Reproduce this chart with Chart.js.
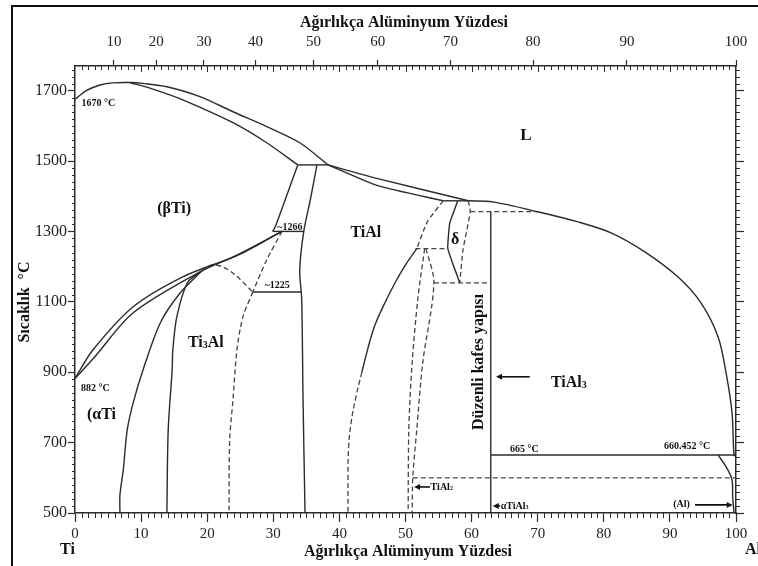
<!DOCTYPE html>
<html>
<head>
<meta charset="utf-8">
<script src="https://cdn.jsdelivr.net/npm/chart.js@4.4.0/dist/chart.umd.min.js"></script>
<style>
  html, body { margin: 0; padding: 0; background: #fff; }
  canvas { display: block; }
</style>
</head>
<body>
<canvas id="phase" width="758" height="566"></canvas>
<script>
// ---- axis ticks ----
const bottomTicks = [0, 10, 20, 30, 40, 50, 60, 70, 80, 90, 100];
const tempTicks = [500, 700, 900, 1100, 1300, 1500, 1700];
const topTickLabels = ['10', '20', '30', '40', '50', '60', '70', '80', '90', '100'];
const topTickPos = [5.9, 12.3, 19.5, 27.3, 36.1, 45.8, 56.8, 69.3, 83.5, 100];

// ---- phase boundaries, [wt% Al, T °C] ----
const liquidusLeft = [[0, 1675], [1.7, 1700], [3.8, 1716], [5.7, 1722], [8.3, 1723], [10.5, 1720], [13.9, 1711], [18.9, 1683], [23.9, 1640], [29.0, 1598], [34.0, 1552], [38.3, 1489]];
const solidusLeft = [[8.3, 1723], [12.0, 1703], [16.3, 1674], [23.9, 1609], [29.0, 1552], [33.7, 1489]];
const peritectic1490 = [[33.7, 1489], [38.3, 1489]];
const betaBoundary = [[33.7, 1489], [31.8, 1390], [30.3, 1313], [29.9, 1300]];
const tialLeft = [[36.6, 1489], [35.6, 1390], [34.6, 1299], [34.0, 1191], [34.3, 1106], [34.5, 822], [34.8, 500]];
const line1266 = [[29.9, 1300], [34.6, 1300]];
const betaTransus = [[0, 882], [2.7, 963], [8.8, 1086], [16.3, 1171], [23.9, 1228], [31.3, 1300]];
const alphaTransus = [[0, 882], [3.0, 944], [8.8, 1069], [18.9, 1185], [25.5, 1240], [31.3, 1300]];
const ti3alDome = [[19.2, 1188], [20.7, 1205], [22.5, 1198], [24.2, 1177], [26.9, 1128]];
const dome2 = [[31.3, 1300], [29.0, 1219], [26.9, 1128]];
const line1225 = [[26.9, 1128], [34.2, 1128]];
const alpha2Right = [[26.9, 1128], [25.4, 1057], [24.5, 963], [23.9, 822], [23.4, 708], [23.3, 500]];
const alphaSolvus = [[19.2, 1188], [15.9, 1125], [12.9, 1040], [10.3, 907], [8.8, 813], [7.9, 736], [7.3, 622], [6.8, 551], [6.8, 500]];
const alpha2Left = [[19.2, 1188], [17.0, 1154], [15.4, 1057], [14.8, 963], [14.7, 907], [14.1, 736], [13.9, 500]];
const liquidusMid = [[38.3, 1489], [45.8, 1450], [59.5, 1387]];
const solidusMid = [[38.3, 1489], [45.8, 1430], [55.7, 1387]];
const deltaTop = [[55.7, 1387], [59.5, 1387]];
const liquidusRight = [[59.5, 1387], [63.2, 1384], [70.0, 1356], [76.1, 1327], [81.1, 1296], [86.2, 1242], [91.2, 1171], [94.7, 1097], [97.3, 1000], [98.5, 898], [99.4, 784], [99.7, 665], [100, 660]];
const tialRightTop = [[55.7, 1387], [53.3, 1327], [51.7, 1251]];
const tialRight = [[51.7, 1251], [50.0, 1205], [48.3, 1150], [46.7, 1090], [45.3, 1030], [44.2, 960], [43.4, 900]];
const tialRightLow = [[43.4, 900], [42.5, 830], [41.8, 760], [41.4, 690], [41.3, 600], [41.3, 500]];
const line1251 = [[51.5, 1251], [56.4, 1251]];
const tial2Left = [[52.9, 1251], [51.9, 1114], [51.0, 926], [50.5, 736], [50.4, 500]];
const tial2Right = [[53.1, 1251], [54.3, 1154], [52.6, 926], [51.7, 736], [51.1, 600], [51.0, 500]];
const line1154 = [[54.3, 1154], [62.9, 1154]];
const deltaLeft = [[57.9, 1387], [56.7, 1324], [56.4, 1251], [58.2, 1154]];
const deltaRight = [[59.5, 1387], [59.8, 1356], [58.7, 1248], [58.2, 1154]];
const line1356 = [[59.8, 1356], [70.0, 1356]];
const tial3Line = [[62.9, 1356], [62.9, 500]];
const line665 = [[62.9, 665], [100, 665]];
const line600 = [[51.1, 600], [100, 600]];
const alSolvus = [[97.3, 665], [98.6, 628], [99.4, 594], [99.5, 546], [99.7, 500]];

const INK = '#2b2b2b';
const SERIF = '"Liberation Serif", "Times New Roman", serif';

// [points, dashed, tension]
const boundaries = [
    [liquidusLeft, false, 0.3],
    [solidusLeft, false, 0.3],
    [peritectic1490, false, 0],
    [betaBoundary, false, 0.2],
    [tialLeft, false, 0.3],
    [line1266, false, 0],
    [betaTransus, false, 0.3],
    [alphaTransus, false, 0.3],
    [ti3alDome, true, 0.3],
    [dome2, true, 0.3],
    [line1225, false, 0],
    [alpha2Right, true, 0.3],
    [alphaSolvus, false, 0.3],
    [alpha2Left, false, 0.3],
    [liquidusMid, false, 0.2],
    [solidusMid, false, 0.2],
    [deltaTop, false, 0],
    [liquidusRight, false, 0.3],
    [tialRightTop, true, 0.2],
    [tialRight, false, 0.4],
    [tialRightLow, true, 0.4],
    [line1251, true, 0],
    [tial2Left, true, 0.3],
    [tial2Right, true, 0.3],
    [line1154, true, 0],
    [deltaLeft, false, 0.1],
    [deltaRight, true, 0.1],
    [line1356, true, 0],
    [tial3Line, false, 0],
    [line665, false, 0],
    [line600, true, 0],
    [alSolvus, false, 0.3]
];

const datasets = boundaries.map(([pts, dashed, tension]) => ({
    data: pts.map(([x, y]) => ({ x, y })),
    showLine: true,
    pointRadius: 0,
    borderColor: dashed ? '#444' : INK,
    borderWidth: dashed ? 1.3 : 1.4,
    borderDash: dashed ? [5, 3] : [],
    tension: tension,
    fill: false
}));

// -----------------------------
// Labels inside the plot (data coords)
// -----------------------------
const notes = [
    { parts: [['1670 °C']], x: 1.0, y: 1663, size: 10, align: 'left' },
    { parts: [['L']], x: 68.2, y: 1572, size: 17 },
    { parts: [['(βTi)']], x: 15.0, y: 1364, size: 16 },
    { parts: [['~1266']], x: 32.5, y: 1312, size: 10 },
    { parts: [['TiAl']], x: 44.0, y: 1296, size: 16 },
    { parts: [['δ']], x: 57.5, y: 1276, size: 16 },
    { parts: [['~1225']], x: 30.6, y: 1147, size: 10 },
    { parts: [['Ti'], ['3', 1], ['Al']], x: 19.8, y: 983, size: 16 },
    { parts: [['882 °C']], x: 0.9, y: 855, size: 10, align: 'left' },
    { parts: [['(αTi']], x: 1.8, y: 779, size: 16, align: 'left' },
    { parts: [['TiAl'], ['3', 1]], x: 72.0, y: 870, size: 16, align: 'left' },
    { parts: [['665 °C']], x: 65.8, y: 680, size: 10, align: 'left' },
    { parts: [['660.452 °C']], x: 92.6, y: 689, size: 10 },
    { parts: [['TiAl'], ['2', 1]], x: 53.8, y: 574, size: 10, align: 'left' },
    { parts: [['αTiAl'], ['3', 1]], x: 64.4, y: 520, size: 10, align: 'left' },
    { parts: [['(Al)']], x: 90.5, y: 523, size: 10, align: 'left' }
];
const arrows = [
    [68.8, 887, 63.7, 887],
    [53.7, 574, 51.3, 574],
    [64.3, 520, 63.2, 520],
    [93.8, 523, 99.5, 523]
];

function drawRich(ctx, parts, px, py, size, align) {
    const big = 'bold ' + size + 'px ' + SERIF;
    const small = 'bold ' + Math.round(size * 0.62) + 'px ' + SERIF;
    let w = 0;
    parts.forEach(([s, sub]) => { ctx.font = sub ? small : big; w += ctx.measureText(s).width; });
    let cx = align === 'left' ? px : px - w / 2;
    ctx.textAlign = 'left';
    ctx.textBaseline = 'middle';
    parts.forEach(([s, sub]) => {
        ctx.font = sub ? small : big;
        ctx.fillText(s, cx, sub ? py + size * 0.15 : py);
        cx += ctx.measureText(s).width;
    });
}

const annot = {
    id: 'annot',
    afterDraw(chart) {
        const ctx = chart.ctx, a = chart.chartArea;
        const X = v => chart.scales.x.getPixelForValue(v);
        const Y = v => chart.scales.y.getPixelForValue(v);
        ctx.save();

        // minor ticks
        ctx.strokeStyle = INK;
        ctx.lineWidth = 1;
        ctx.beginPath();
        for (let v = 1; v < 100; v++) {
            const px = Math.round(X(v)) + 0.5;
            const len = v % 10 === 0 ? 6 : 4;
            ctx.moveTo(px, a.top); ctx.lineTo(px, a.top + len);
            if (v % 10 !== 0) { ctx.moveTo(px, a.bottom); ctx.lineTo(px, a.bottom + 5); }
        }
        for (let t = 520; t < 1770; t += 20) {
            if ((t - 500) % 200 === 0) continue;
            const py = Math.round(Y(t)) + 0.5;
            ctx.moveTo(a.left - 3, py); ctx.lineTo(a.left, py);
            ctx.moveTo(a.right, py); ctx.lineTo(a.right + 4, py);
        }
        ctx.stroke();

        // outer frame
        ctx.lineWidth = 2;
        ctx.strokeStyle = '#111';
        ctx.beginPath();
        ctx.moveTo(12, 566); ctx.lineTo(12, 6); ctx.lineTo(758, 6);
        ctx.stroke();

        // notes
        ctx.fillStyle = '#111';
        notes.forEach(n => drawRich(ctx, n.parts, X(n.x), Y(n.y), n.size, n.align));

        // arrows
        ctx.strokeStyle = '#111';
        ctx.lineWidth = 1.6;
        arrows.forEach(([x1, y1, x2, y2]) => {
            const p1 = [X(x1), Y(y1)], p2 = [X(x2), Y(y2)];
            const dir = Math.sign(p2[0] - p1[0]);
            ctx.beginPath();
            ctx.moveTo(p1[0], p1[1]); ctx.lineTo(p2[0] - dir * 4, p2[1]);
            ctx.stroke();
            ctx.beginPath();
            ctx.moveTo(p2[0], p2[1]);
            ctx.lineTo(p2[0] - dir * 6, p2[1] - 3);
            ctx.lineTo(p2[0] - dir * 6, p2[1] + 3);
            ctx.closePath();
            ctx.fill();
        });

        // rotated note
        ctx.save();
        ctx.translate(X(61.1), Y(929));
        ctx.rotate(-Math.PI / 2);
        ctx.font = 'bold 16px ' + SERIF;
        ctx.textAlign = 'center';
        ctx.textBaseline = 'middle';
        ctx.fillText('Düzenli kafes yapısı', 0, 0);
        ctx.restore();

        // axis titles
        ctx.font = 'bold 16px ' + SERIF;
        ctx.textAlign = 'center';
        ctx.textBaseline = 'middle';
        ctx.fillText('Ağırlıkça Alüminyum Yüzdesi', 404, 23);
        ctx.fillText('Ağırlıkça Alüminyum Yüzdesi', 408, 552);
        ctx.textAlign = 'left';
        ctx.fillText('Ti', 60, 550);
        ctx.fillText('Al', 745, 550);
        ctx.save();
        ctx.translate(25, 302);
        ctx.rotate(-Math.PI / 2);
        ctx.textAlign = 'center';
        ctx.fillText('Sıcaklık  °C', 0, 0);
        ctx.restore();

        ctx.restore();
    }
};

const axisGrid = len => ({
    display: true,
    drawOnChartArea: false,
    drawTicks: true,
    tickLength: len,
    tickColor: INK,
    tickWidth: 1.2
});
const axisBorder = { display: true, color: INK, width: 1.5 };
const tickFont = { family: SERIF, size: 15 };
const plain = v => String(v);

new Chart(document.getElementById('phase').getContext('2d'), {
    type: 'scatter',
    data: { datasets },
    options: {
        responsive: false,
        devicePixelRatio: 1,
        animation: false,
        layout: { padding: 0 },
        plugins: { legend: { display: false }, tooltip: { enabled: false } },
        scales: {
            x: {
                type: 'linear', position: 'bottom', min: 0, max: 100,
                afterBuildTicks: s => { s.ticks = bottomTicks.map(v => ({ value: v })); },
                ticks: { color: '#222', font: tickFont, padding: 3, autoSkip: false, maxRotation: 0, callback: plain },
                grid: axisGrid(9), border: axisBorder,
                afterFit: s => { s.height = 53; }
            },
            xTop: {
                type: 'linear', position: 'top', min: 0, max: 100,
                afterBuildTicks: s => { s.ticks = topTickPos.map(v => ({ value: v })); },
                ticks: { color: '#222', font: tickFont, padding: 9, autoSkip: false, maxRotation: 0,
                         callback: (v, i) => topTickLabels[i] },
                grid: axisGrid(6), border: axisBorder,
                afterFit: s => { s.height = 66; }
            },
            y: {
                type: 'linear', position: 'left', min: 500, max: 1770,
                afterBuildTicks: s => { s.ticks = tempTicks.map(v => ({ value: v })); },
                ticks: { color: '#222', font: { family: SERIF, size: 16 }, padding: 1, autoSkip: false, callback: plain },
                grid: axisGrid(7), border: axisBorder,
                afterFit: s => { s.width = 75; }
            },
            y2: {
                type: 'linear', position: 'right', min: 500, max: 1770,
                afterBuildTicks: s => { s.ticks = tempTicks.map(v => ({ value: v })); },
                ticks: { display: false },
                grid: axisGrid(8), border: axisBorder,
                afterFit: s => { s.width = 22; }
            }
        }
    },
    plugins: [annot]
});
</script>
</body>
</html>
